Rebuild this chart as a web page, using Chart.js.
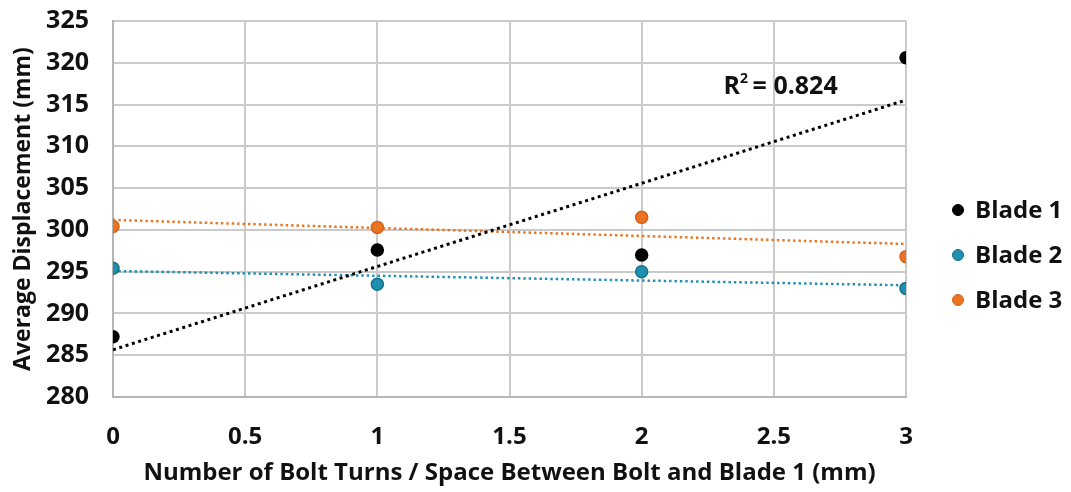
<!DOCTYPE html>
<html>
<head>
<meta charset="utf-8">
<script src="https://cdn.jsdelivr.net/npm/chart.js@4.4.1/dist/chart.umd.min.js"></script>
<style>
  html, body { margin: 0; padding: 0; background: #ffffff; }
  #wrap { width: 1071px; height: 492px; }
</style>
</head>
<body>
<div id="wrap"><canvas id="chart" width="1071" height="492"></canvas></div>
<script>
// Bolt turns / gap between bolt and blade 1 (mm)
const turns = [0, 1, 2, 3];
// Average displacement (mm) per blade
const blade1 = [287.2, 297.6, 297.0, 320.6];
const blade2 = [295.4, 293.5, 295.0, 293.0];
const blade3 = [300.4, 300.3, 301.5, 296.8];
const seriesNames = ['Blade 1', 'Blade 2', 'Blade 3'];
const seriesColors = ['#000000', '#1f8fb0', '#ea7420'];
const seriesBorders = ['#000000', '#15718c', '#d8621a'];
const r2Label = '0.824';

// Least-squares line through one blade's points, returned as its end points
function trend(xs, ys) {
  const n = xs.length;
  const mx = xs.reduce((a, b) => a + b, 0) / n;
  const my = ys.reduce((a, b) => a + b, 0) / n;
  let sxy = 0, sxx = 0;
  for (let i = 0; i < n; i++) { sxy += (xs[i] - mx) * (ys[i] - my); sxx += (xs[i] - mx) ** 2; }
  const b = sxy / sxx, a = my - b * mx;
  const x0 = Math.min(...xs), x1 = Math.max(...xs);
  return [{ x: x0, y: a + b * x0 }, { x: x1, y: a + b * x1 }];
}

const pts = ys => turns.map((x, i) => ({ x, y: ys[i] }));
const allSeries = [blade1, blade2, blade3];

const FONT = '"Open Sans", "DejaVu Sans", sans-serif';

const datasets = [];
allSeries.forEach((ys, i) => {
  datasets.push({
    type: 'line',
    label: seriesNames[i] + ' trend',
    data: trend(turns, ys),
    borderColor: seriesColors[i],
    borderWidth: i === 0 ? 3 : 2.5,
    borderDash: i === 0 ? [3, 3.6] : [2.4, 3],
    pointRadius: 0,
    fill: false,
    order: 5
  });
});
allSeries.forEach((ys, i) => {
  datasets.push({
    type: 'scatter',
    label: seriesNames[i],
    data: pts(ys),
    backgroundColor: seriesColors[i],
    borderColor: seriesBorders[i],
    borderWidth: 1.5,
    pointRadius: 6,
    order: 1
  });
});

// Legend on the right and the R² note on the Blade 1 trend
const extras = {
  id: 'extras',
  afterDraw(chart) {
    const ctx = chart.ctx;
    ctx.save();
    ctx.textBaseline = 'middle';
    ctx.textAlign = 'left';
    ctx.font = 'bold 24px ' + FONT;
    const ly = [210, 255, 300];
    seriesNames.forEach((name, i) => {
      ctx.beginPath();
      ctx.arc(958, ly[i], 5.5, 0, Math.PI * 2);
      ctx.fillStyle = seriesColors[i];
      ctx.fill();
      ctx.lineWidth = 1;
      ctx.strokeStyle = seriesBorders[i];
      ctx.stroke();
      ctx.fillStyle = '#111111';
      ctx.fillText(name, 975, ly[i] + 1);
    });
    const xs = chart.scales.x, ysc = chart.scales.y;
    const px = xs.getPixelForValue(2.31), py = ysc.getPixelForValue(317.1);
    ctx.fillStyle = '#111111';
    ctx.font = 'bold 25px ' + FONT;
    ctx.fillText('R', px, py);
    const w = ctx.measureText('R').width;
    ctx.font = 'bold 14px ' + FONT;
    ctx.fillText('2', px + w, py - 8);
    ctx.font = 'bold 25px ' + FONT;
    ctx.fillText(' = ' + r2Label, px + w + 6, py);
    ctx.restore();
  }
};

new Chart(document.getElementById('chart'), {
  type: 'scatter',
  data: { datasets },
  options: {
    responsive: false,
    animation: false,
    layout: { padding: { top: 21, right: 165, left: 8, bottom: 0 } },
    plugins: { legend: { display: false }, tooltip: { enabled: false } },
    scales: {
      x: {
        type: 'linear', min: 0, max: 3,
        ticks: { stepSize: 0.5, color: '#111111', padding: 26, font: { family: FONT, size: 24, weight: 'bold' },
                 callback: v => String(v) },
        grid: { color: '#cacaca', lineWidth: 2, drawTicks: false },
        border: { color: '#b5b5b5', width: 2 },
        title: { display: true, text: 'Number of Bolt Turns / Space Between Bolt and Blade 1 (mm)', color: '#111111', padding: { top: 6 }, font: { family: FONT, size: 24, weight: 'bold' } },
        afterFit(s) { s.height = 95; s.paddingLeft = 0; s.paddingRight = 0; }
      },
      y: {
        min: 280, max: 325,
        ticks: { stepSize: 5, color: '#111111', padding: 24, font: { family: FONT, size: 25, weight: 'bold' } },
        grid: { color: '#cacaca', lineWidth: 2, drawTicks: false },
        border: { color: '#b5b5b5', width: 2 },
        title: { display: true, text: 'Average Displacement (mm)', color: '#111111', padding: 2, font: { family: FONT, size: 23, weight: 'bold' } },
        afterFit(s) { s.width = 105; s.paddingTop = 0; s.paddingBottom = 0; }
      }
    }
  },
  plugins: [extras]
});
</script>
</body>
</html>
